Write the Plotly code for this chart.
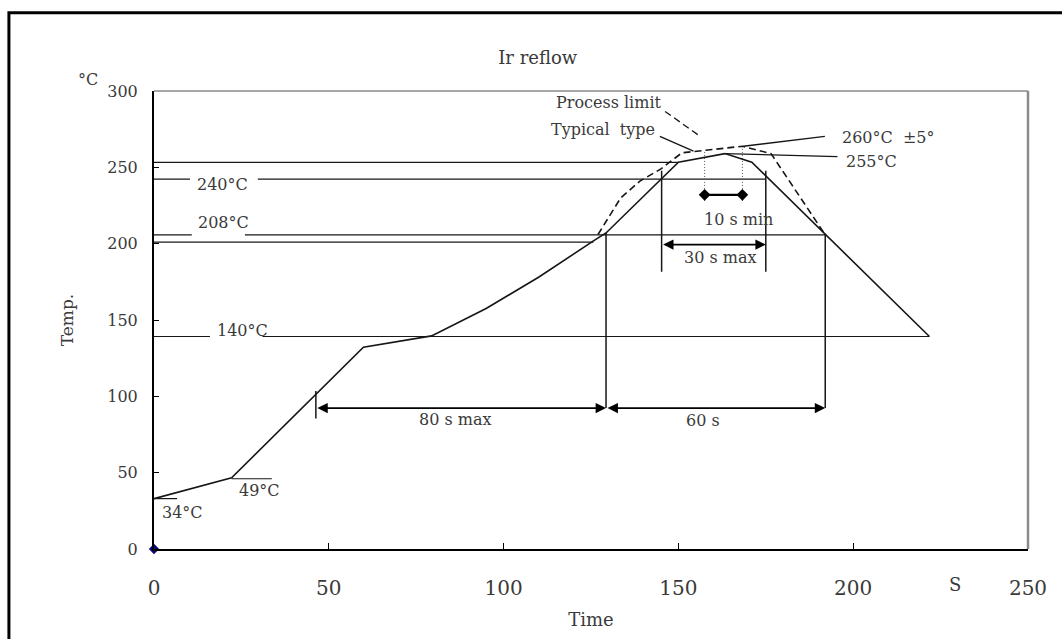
import plotly.graph_objects as go

FONT = "DejaVu Serif"
TXT = "#3a3a3a"
LN = "#161616"

# ---------------- data ----------------
x_ticks = [0, 50, 100, 150, 200, 250]
y_ticks = [0, 50, 100, 150, 200, 250, 300]
x_unit_label = "S"
x_unit_pos = 229

# typical reflow profile (solid)
typ_time = [0, 22.2, 59.9, 79.4, 95, 110, 125.7, 129.3, 150, 163.3, 171, 191.9, 221.8]
typ_temp = [33, 46.7, 132.2, 139.6, 157.5, 178, 201.8, 207, 253.3, 259, 253.4, 206.5, 139.2]

# process limit profile (dashed)
lim_time = [127, 133.5, 139, 145, 151, 157, 168.3, 176.5, 191.5]
lim_temp = [206, 230, 241, 249, 259.5, 261, 263.8, 259, 207.5]

# horizontal level lines
lvl_temp = [33, 46, 139.2, 201, 205.7, 242.3, 253.3]
lvl_start = [0, 22.2, 0, 0, 0, 0, 0]
lvl_end = [6.6, 33.7, 221.8, 125.7, 192, 174.8, 150]
lvl_gap_a = [None, None, 16, None, 10.8, 10.3, None]
lvl_gap_b = [None, None, 31, None, 26, 29.7, None]

# level labels
lvl_label = ["34°C", "49°C", "140°C", "208°C", "240°C"]
lvl_label_t = [8.2, 30.3, 25.3, 19.9, 19.7]
lvl_label_T = [23.9, 38, 143.3, 213.9, 238.8]

# vertical marker lines
vmark_time = [46.3, 129.3, 192, 145.2, 175]
vmark_low = [85.4, 92.3, 92.3, 181.6, 181.6]
vmark_high = [103.5, 207, 206.5, 247.8, 247.8]

# span arrows
span_from = [46.3, 129.3, 145.2]
span_to = [129.3, 192, 175]
span_temp = [92.3, 92.3, 199.4]
span_label = ["80 s max", "60 s", "30 s max"]
span_label_t = [86.1, 157.1, 161.9]
span_label_T = [84.7, 84, 191]

# 10 s minimum dwell above 255 C
dwell_time = [157.5, 168.3]
dwell_top = [261.2, 263.8]
dwell_bottom = 228
dwell_marker_temp = 232
dwell_label = "10 s min"
dwell_label_t = 167.2
dwell_label_T = 215.6

# callouts with leader lines
call_label = ["Process limit", "Typical  type", "260°C  ±5°", "255°C"]
call_label_t = [130.2, 128.3, 210, 205.3]
call_label_T = [292.5, 274.7, 269.3, 254]
call_x0 = [146.2, 144.7, 168.6, 163.3]
call_y0 = [286.6, 270.3, 263.8, 259]
call_x1 = [156.2, 154.3, 191.9, 195.5]
call_y1 = [270.3, 260.6, 270.3, 257]
call_dash = ["7px,4px", "solid", "solid", "solid"]

# ---------------- figure ----------------
fig = go.Figure()

# horizontal level lines (with gaps for labels)
hx, hy = [], []
for T, a, b, ga, gb in zip(lvl_temp, lvl_start, lvl_end, lvl_gap_a, lvl_gap_b):
    if ga is None:
        hx += [a, b, None]
        hy += [T, T, None]
    else:
        hx += [a, ga, None, gb, b, None]
        hy += [T, T, None, T, T, None]
fig.add_trace(go.Scatter(x=hx, y=hy, mode="lines", line=dict(color=LN, width=1.2),
                         hoverinfo="skip", showlegend=False))

# vertical marker lines
vx, vy = [], []
for t, lo, hi in zip(vmark_time, vmark_low, vmark_high):
    vx += [t, t, None]
    vy += [lo, hi, None]
fig.add_trace(go.Scatter(x=vx, y=vy, mode="lines", line=dict(color=LN, width=1.5),
                         hoverinfo="skip", showlegend=False))

# dotted dwell verticals
dx, dy = [], []
for t, top in zip(dwell_time, dwell_top):
    dx += [t, t, None]
    dy += [dwell_bottom, top, None]
fig.add_trace(go.Scatter(x=dx, y=dy, mode="lines", line=dict(color="#555555", width=1, dash="1px,2px"),
                         hoverinfo="skip", showlegend=False))
fig.add_trace(go.Scatter(x=dwell_time, y=[dwell_marker_temp] * len(dwell_time), mode="lines+markers",
                         line=dict(color="#000000", width=2.2),
                         marker=dict(symbol="diamond", size=9, color="#000000"),
                         hoverinfo="skip", showlegend=False))

# leader lines
for x0, y0, x1, y1, ds in zip(call_x0, call_y0, call_x1, call_y1, call_dash):
    fig.add_trace(go.Scatter(x=[x0, x1], y=[y0, y1], mode="lines",
                             line=dict(color=LN, width=1.3, dash=ds),
                             hoverinfo="skip", showlegend=False))

# profiles
fig.add_trace(go.Scatter(x=lim_time, y=lim_temp, mode="lines", name="Process limit",
                         line=dict(color=LN, width=1.6, dash="7px,4px"), showlegend=False))
fig.add_trace(go.Scatter(x=typ_time, y=typ_temp, mode="lines", name="Typical type",
                         line=dict(color=LN, width=1.6), showlegend=False))

# origin marker
fig.add_trace(go.Scatter(x=[x_ticks[0]], y=[y_ticks[0]], mode="markers",
                         marker=dict(symbol="diamond", size=8, color="#0a0a80"),
                         hoverinfo="skip", showlegend=False, cliponaxis=False))

annos = []
# span arrows
for a, b, T in zip(span_from, span_to, span_temp):
    annos.append(dict(x=b, y=T, ax=a, ay=T, xref="x", yref="y", axref="x", ayref="y",
                      text="", showarrow=True, arrowhead=2, arrowside="end+start",
                      arrowsize=1.3, arrowwidth=1.6, arrowcolor="#000000",
                      standoff=0, startstandoff=0))

def label(text, x, y, size=16, **kw):
    d = dict(x=x, y=y, xref="x", yref="y", text=text, showarrow=False,
             font=dict(family=FONT, size=size, color=TXT), xanchor="center", yanchor="middle")
    d.update(kw)
    annos.append(d)

for s, t, T in zip(lvl_label, lvl_label_t, lvl_label_T):
    label(s, t, T)
for s, t, T in zip(span_label, span_label_t, span_label_T):
    label(s, t, T)
label(dwell_label, dwell_label_t, dwell_label_T)
for s, t, T in zip(call_label, call_label_t, call_label_T):
    label(s, t, T)

# x unit label
annos.append(dict(x=x_unit_pos, y=0, xref="x", yref="y", yshift=-35, text=x_unit_label,
                  showarrow=False, font=dict(family=FONT, size=18, color=TXT)))
# y unit label
annos.append(dict(x=-0.076, y=1.025, xref="paper", yref="paper", text="°C", showarrow=False,
                  xanchor="center", yanchor="middle",
                  font=dict(family=FONT, size=16, color=TXT)))

shapes = [
    # outer frame
    dict(type="rect", xref="paper", yref="paper", x0=-0.166, x1=1.06, y0=-0.3, y1=1.171,
         line=dict(color="#000000", width=3), layer="below"),
    # plot area top and right border
    dict(type="line", xref="paper", yref="paper", x0=0, x1=1, y0=1, y1=1,
         line=dict(color="#8a8a8a", width=1.5)),
    dict(type="line", xref="paper", yref="paper", x0=1, x1=1, y0=0, y1=1,
         line=dict(color="#8a8a8a", width=2.5)),
]

fig.update_layout(
    width=1062, height=639,
    margin=dict(l=154, r=34, t=91, b=87),
    paper_bgcolor="white", plot_bgcolor="white",
    title=dict(text="Ir reflow", x=0.439, xref="paper", xanchor="center",
               y=1 - 58 / 639, yref="container", yanchor="middle",
               font=dict(family=FONT, size=18, color=TXT)),
    annotations=annos,
    shapes=shapes,
    showlegend=False,
)
fig.update_xaxes(range=[0, 250], tickvals=x_ticks, showgrid=False, zeroline=False,
                 showline=True, linecolor="#000000", linewidth=2,
                 ticks="inside", ticklen=6, tickcolor="#000000",
                 tickfont=dict(family=FONT, size=20, color=TXT), ticklabelstandoff=20,
                 title=dict(text="Time", font=dict(family=FONT, size=18, color=TXT), standoff=14))
fig.update_yaxes(range=[0, 300], tickvals=y_ticks, showgrid=False, zeroline=False,
                 showline=True, linecolor="#000000", linewidth=2,
                 ticks="inside", ticklen=5, tickcolor="#000000",
                 tickfont=dict(family=FONT, size=16, color=TXT), ticklabelstandoff=11,
                 title=dict(text="Temp.", font=dict(family=FONT, size=17, color=TXT), standoff=29))

fig.write_html("out.html")
